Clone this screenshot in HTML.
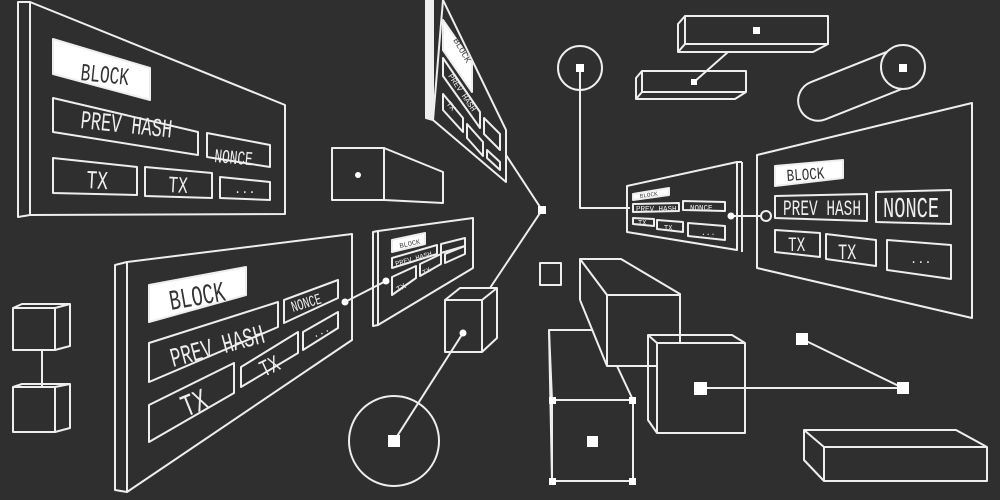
<!DOCTYPE html>
<html><head><style>
html,body{margin:0;padding:0;background:#2f2f2f;}
svg{display:block}
text{font-family:"Liberation Mono",monospace;fill:#eee;}
</style></head><body>
<svg width="1000" height="500" viewBox="0 0 1000 500" xmlns="http://www.w3.org/2000/svg">
<rect width="1000" height="500" fill="#2f2f2f"/>
<g fill="none" stroke="#eee" stroke-width="2" stroke-linejoin="round">

<!-- top-left panel -->
<polygon points="18,2 30,2 30,215 18,217"/>
<polygon points="30,2 285,105 285,214 30,215"/>
<polygon points="53,39 150,68 150,100 53,74" fill="#fff"/>
<polygon points="53,98 198,132 198,155 53,132"/>
<polygon points="207,133 270,145 270,167 207,157"/>
<polygon points="53,158 137,167 137,195 53,193"/>
<polygon points="145,167 212,173 212,198 145,196"/>
<polygon points="220,177 270,182 270,200 220,198"/>

<!-- top centre panel -->
<polygon points="426,0 433,0 433,120 426,118" fill="#eee"/>
<polygon points="443,0 506,130 506,182 433,120"/>
<polygon points="443,20 472,62 472,92 443,50" fill="#fff"/>
<polygon points="443,58 480,112 480,128 443,76"/>
<polygon points="443,94 463,118 463,132 443,110"/>
<polygon points="467,124 483,142 483,156 467,138"/>
<polygon points="484,118 500,134 500,150 484,134"/>
<polygon points="487,150 500,162 500,170 487,158"/>
<line x1="506" y1="155" x2="542" y2="210"/>
<line x1="542" y1="210" x2="490" y2="288"/>

<!-- left cuboid -->
<rect x="332" y="148" width="52" height="52"/>
<polyline points="332,148 384,148 443,172 443,203 384,200 332,200"/>

<!-- lower-left big panel -->
<polygon points="115,265 127,262 127,492 115,490"/>
<polygon points="127,262 352,234 352,340 127,492"/>
<polygon points="149,285 246,267 246,295 149,322" fill="#fff"/>
<polygon points="149,343 278,302 278,327 149,382"/>
<polygon points="284,300 338,280 338,298 284,323"/>
<polygon points="149,405 234,363 234,393 149,442"/>
<polygon points="241,367 298,332 298,353 241,387"/>
<polygon points="303,332 338,312 338,328 303,350"/>
<line x1="345" y1="302" x2="386" y2="281"/>

<!-- small panel -->
<polygon points="373,232 378,231 378,325 373,326"/>
<polygon points="378,231 473,218 473,268 378,325"/>
<polygon points="392,240 425,233 425,244 392,252" fill="#fff"/>
<polygon points="392,258 437,245 437,254 392,268"/>
<polygon points="441,244 465,238 465,246 441,253"/>
<polygon points="392,277 416,266 416,278 392,295"/>
<polygon points="420,264 441,254 441,264 420,276"/>
<polygon points="445,254 465,246 465,254 445,263"/>

<!-- centre box -->
<rect x="445" y="300" width="37" height="52"/>
<polyline points="445,300 460,288 497,288 497,338 482,352"/>
<line x1="482" y1="300" x2="497" y2="288"/>
<line x1="463" y1="333" x2="394" y2="441"/>
<circle cx="394" cy="441" r="45"/>

<!-- left cubes -->
<rect x="13" y="308" width="42" height="42"/>
<polyline points="13,308 22,304 70,304 70,346 55,350"/>
<line x1="55" y1="308" x2="70" y2="304"/>
<line x1="42" y1="350" x2="42" y2="387"/>
<rect x="13" y="387" width="42" height="45"/>
<polyline points="13,387 22,384 70,384 70,428 55,432"/>
<line x1="55" y1="387" x2="70" y2="384"/>

<!-- right side top -->
<circle cx="580" cy="68" r="22"/>
<polyline points="580,68 580,208 630,208"/>
<rect x="685" y="16" width="143" height="28"/>
<polyline points="685,16 678,24 678,52 813,52 828,44"/>
<line x1="678" y1="52" x2="685" y2="44"/>
<rect x="642" y="71" width="104" height="21"/>
<polyline points="642,71 636,78 636,99 735,99 746,92"/>
<line x1="636" y1="99" x2="642" y2="92"/>
<line x1="694" y1="82" x2="728" y2="52"/>
<g transform="translate(820,100) rotate(-21.7)"><rect x="-22" y="-20" width="133" height="40" rx="20"/></g>
<circle cx="903" cy="67" r="22" fill="#2f2f2f"/>

<!-- right small panel -->
<polygon points="627,186 737,162 737,250 627,232"/>
<line x1="742" y1="162" x2="742" y2="252"/>
<line x1="737" y1="162" x2="742" y2="162"/>
<polygon points="633,194 669,188 669,195 633,200" fill="#fff"/>
<polygon points="633,204 679,203 679,211 633,212"/>
<polygon points="683,201 725,202 725,211 683,210"/>
<polygon points="633,218 654,219 654,226 633,224"/>
<polygon points="657,220 683,222 683,232 657,229"/>
<polygon points="688,223 725,226 725,240 688,236"/>
<line x1="731" y1="216" x2="761" y2="216"/>
<circle cx="766" cy="216" r="5"/>

<!-- right big panel -->
<polygon points="757,155 972,103 972,318 757,268"/>
<polygon points="775,166 843,160 843,178 775,186" fill="#fff"/>
<polygon points="775,196 867,194 867,221 775,218"/>
<polygon points="876,192 951,190 951,224 876,222"/>
<polygon points="775,230 820,233 820,257 775,252"/>
<polygon points="826,234 876,240 876,266 826,259"/>
<polygon points="887,240 951,245 951,279 887,270"/>

<!-- bottom right shapes -->
<rect x="540" y="263" width="21" height="22"/>
<polyline points="580,300 580,259 621,259 680,294 680,366 607,366 580,300"/>
<line x1="580" y1="259" x2="607" y2="295"/>
<polyline points="607,366 607,295 680,295"/>
<polyline points="592,330 549,330 552,400"/>
<line x1="617" y1="366" x2="633" y2="400"/>
<line x1="549" y1="330" x2="552" y2="481"/>
<rect x="552" y="400" width="81" height="81"/>
<rect x="657" y="343" width="88" height="90" fill="#2f2f2f"/>
<polyline points="657,343 648,335 732,335 745,343"/>
<polyline points="648,335 648,420 657,433"/>
<line x1="700" y1="388" x2="903" y2="388"/>
<line x1="802" y1="339" x2="903" y2="388"/>
<rect x="824" y="447" width="163" height="34"/>
<polyline points="824,447 804,430 956,430 987,447"/>
<polyline points="804,430 804,460 824,481"/>
</g>

<!-- filled markers -->
<g fill="#fff">
<rect x="538" y="206" width="8" height="8"/>
<circle cx="358" cy="175" r="3"/>
<circle cx="345" cy="302" r="3.5"/>
<circle cx="386" cy="281" r="3.5"/>
<circle cx="463" cy="333" r="3.5"/>
<rect x="388" y="435" width="12" height="12"/>
<rect x="576" y="64" width="8" height="8"/>
<rect x="753" y="27" width="7" height="7"/>
<rect x="691" y="79" width="6" height="6"/>
<rect x="899" y="64" width="8" height="8"/>
<circle cx="731" cy="216" r="3.5"/>
<rect x="587" y="436" width="11" height="11"/>
<rect x="549" y="397" width="7" height="7"/>
<rect x="629" y="397" width="7" height="7"/>
<rect x="549" y="478" width="7" height="7"/>
<rect x="629" y="478" width="7" height="7"/>
<rect x="694" y="382" width="13" height="13"/>
<rect x="897" y="382" width="12" height="12"/>
<rect x="796" y="333" width="12" height="12"/>
</g>

<!-- labels -->
<text transform="translate(80,80) rotate(6) scale(0.85,1.3)" font-size="19" style="fill:#333">BLOCK</text>
<text transform="translate(80,128) rotate(6) scale(0.85,1.3)" font-size="20">PREV HASH</text>
<text transform="translate(214,162) rotate(5) scale(0.85,1.3)" font-size="15">NONCE</text>
<text transform="translate(86,188) rotate(3) scale(0.9,1.3)" font-size="20">TX</text>
<text transform="translate(168,192) rotate(3) scale(0.9,1.3)" font-size="18">TX</text>
<text transform="translate(234,193)" font-size="12">...</text>

<text transform="translate(171,310) rotate(-10) scale(0.85,1.3)" font-size="22" style="fill:#333">BLOCK</text>
<text transform="translate(173,367) rotate(-15) scale(0.85,1.3)" font-size="21">PREV HASH</text>
<text transform="translate(293,312) rotate(-17) scale(0.85,1.3)" font-size="12">NONCE</text>
<text transform="translate(186,417) rotate(-22) scale(0.9,1.3)" font-size="24">TX</text>
<text transform="translate(264,377) rotate(-25) scale(0.9,1.3)" font-size="18">TX</text>
<text transform="translate(314,338) rotate(-25)" font-size="10">...</text>

<text transform="translate(400,248) rotate(-12)" font-size="7" style="fill:#444">BLOCK</text>
<text transform="translate(396,266) rotate(-16)" font-size="7">PREV HASH</text>
<text transform="translate(398,292) rotate(-28)" font-size="8">TX</text>
<text transform="translate(424,275) rotate(-28)" font-size="7">TX</text>

<text transform="translate(453,40) rotate(60)" font-size="9" style="fill:#444">BLOCK</text>
<text transform="translate(448,76) rotate(56)" font-size="8">PREV HASH</text>
<text transform="translate(446,104) rotate(50)" font-size="8">TX</text>

<text transform="translate(640,198) rotate(-8)" font-size="6" style="fill:#444">BLOCK</text>
<text x="636" y="211" font-size="7.5">PREV HASH</text>
<text x="690" y="210" font-size="7.5">NONCE</text>
<text x="638" y="225" font-size="7">TX</text>
<text x="664" y="230" font-size="7">TX</text>
<text x="701" y="235" font-size="8">...</text>

<text transform="translate(787,181) rotate(-4) scale(0.9,1.2)" font-size="14" style="fill:#333">BLOCK</text>
<text transform="translate(783,215) scale(0.85,1.3)" font-size="17">PREV HASH</text>
<text transform="translate(883,217) scale(0.85,1.3)" font-size="22">NONCE</text>
<text transform="translate(788,251) scale(0.9,1.3)" font-size="16">TX</text>
<text transform="translate(838,259) scale(0.9,1.3)" font-size="17">TX</text>
<text x="910" y="263" font-size="12">...</text>
</svg>
</body></html>
